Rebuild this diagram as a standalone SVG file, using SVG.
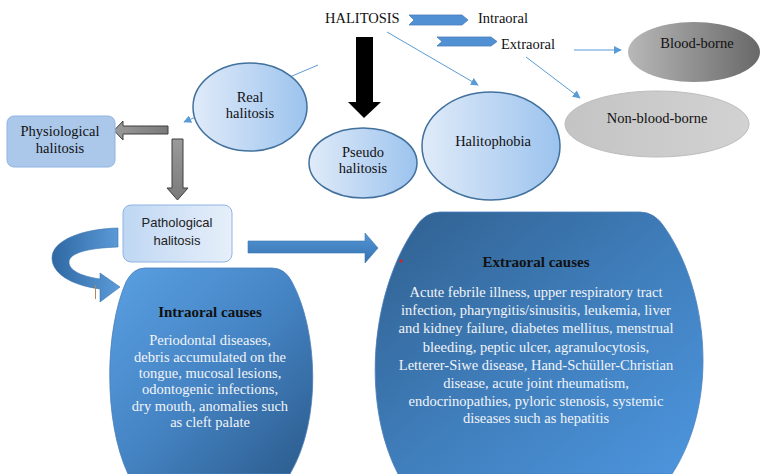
<svg xmlns="http://www.w3.org/2000/svg" width="760" height="474" viewBox="0 0 760 474">
<defs>
<linearGradient id="gEll" x1="0" y1="0" x2="1" y2="0"><stop offset="0" stop-color="#e0ebf9"/><stop offset="1" stop-color="#9cc3ee"/></linearGradient>
<linearGradient id="gPath" x1="0" y1="0" x2="1" y2="0"><stop offset="0" stop-color="#bfd7f3"/><stop offset="1" stop-color="#e6effa"/></linearGradient>
<linearGradient id="gBlood" x1="0" y1="0" x2="1" y2="0"><stop offset="0" stop-color="#b8b8b8"/><stop offset="1" stop-color="#686868"/></linearGradient>
<linearGradient id="gNon" x1="0" y1="0" x2="1" y2="0"><stop offset="0" stop-color="#c4c4c4"/><stop offset="1" stop-color="#d2d2d2"/></linearGradient>
<linearGradient id="gGray" x1="0" y1="0" x2="1" y2="0"><stop offset="0" stop-color="#9a9a9a"/><stop offset="1" stop-color="#7a7a7a"/></linearGradient>
<linearGradient id="gGrayV" x1="0" y1="0" x2="0" y2="1"><stop offset="0" stop-color="#9a9a9a"/><stop offset="1" stop-color="#7a7a7a"/></linearGradient>
<linearGradient id="gIntra" x1="0" y1="0" x2="1" y2="1"><stop offset="0" stop-color="#5aa0e2"/><stop offset="0.5" stop-color="#4584c4"/><stop offset="1" stop-color="#2b5b8c"/></linearGradient>
<linearGradient id="gExtra" x1="0" y1="0" x2="1" y2="1"><stop offset="0" stop-color="#30608f"/><stop offset="0.5" stop-color="#3f7dba"/><stop offset="1" stop-color="#4d96df"/></linearGradient>
<linearGradient id="gBlueArrow" x1="0" y1="0" x2="0" y2="1"><stop offset="0" stop-color="#5596d6"/><stop offset="1" stop-color="#3572b0"/></linearGradient>
<linearGradient id="gCurve" x1="0" y1="0" x2="1" y2="0"><stop offset="0" stop-color="#2f68a3"/><stop offset="1" stop-color="#5b9bd8"/></linearGradient>
<marker id="ah" viewBox="0 0 10 10" refX="9" refY="5" markerWidth="8" markerHeight="8" markerUnits="userSpaceOnUse" orient="auto"><path d="M0,0 L10,5 L0,10 Z" fill="#5b9bd5"/></marker>
</defs>
<style>
.serif{font-family:"Liberation Serif","Times New Roman",serif;fill:#111}
.sans{font-family:"Liberation Sans",Arial,sans-serif;fill:#222}
.t14{font-size:14.5px}
.ctr{text-anchor:middle}
.body{font-family:"Liberation Serif","Times New Roman",serif;font-size:14.5px;fill:#f2f4f8;text-anchor:middle}
.head{font-family:"Liberation Serif","Times New Roman",serif;font-size:15px;font-weight:bold;fill:#111;text-anchor:middle}
.ell{fill:url(#gEll);stroke:#41719c;stroke-width:1.5}
.thin{stroke:#5b9bd5;stroke-width:1;fill:none}
.chev{fill:#5190d2;stroke:#4a7ebb;stroke-width:0.8}
.grayA{stroke:#3f3f3f;stroke-width:1}
</style>
<rect width="760" height="474" fill="#ffffff"/>

<g id="connectors">
<line class="thin" x1="318" y1="65" x2="184" y2="122" marker-end="url(#ah)"/>
<line class="thin" x1="387" y1="32" x2="478" y2="85" marker-end="url(#ah)"/>
<line class="thin" x1="526" y1="57" x2="580" y2="98" marker-end="url(#ah)"/>
<line class="thin" x1="574" y1="50" x2="621" y2="50" marker-end="url(#ah)"/>
<path class="chev" d="M409,15 L462,15 L468,20 L462,25 L409,25 L414,20 Z"/>
<path class="chev" d="M437,37 L491,37 L497,41.5 L491,46 L437,46 L442,41.5 Z"/>
<path d="M356,37 L373,37 L373,102 L381,102 L364,118 L348,102 L356,102 Z" fill="#000"/>
<path class="grayA" d="M168,126 L123,126 L123,121 L114,130.5 L123,140 L123,134 L168,134 Z" fill="url(#gGray)"/>
<path class="grayA" d="M172,139 L183,139 L183,188 L188,188 L177.5,200 L167,188 L172,188 Z" fill="url(#gGrayV)"/>
<path d="M248,241 L365,241 L365,233 L378,248 L365,263 L365,253 L248,253 Z" fill="url(#gBlueArrow)" stroke="#3a75b2" stroke-width="0.6"/>
<path d="M118,228 C80,229 52,241 52,258 C52,273 70,285 100,289 L100,302 L120,287 L100,273 L100,279 C80,276 69,270 69,262 C69,253 88,248 118,247 Z" fill="url(#gCurve)" stroke="#3a75b2" stroke-width="0.6"/>
<line x1="95.5" y1="285" x2="95.5" y2="299" stroke="#b08a55" stroke-width="1"/>
</g>

<g id="halitosis"><text class="serif" x="325" y="23" font-size="14.5">HALITOSIS</text></g>
<g id="intraoral-label"><text class="serif t14" x="478" y="23">Intraoral</text></g>
<g id="extraoral-label"><text class="serif t14" x="501" y="49">Extraoral</text></g>

<g id="blood-borne">
<ellipse cx="694" cy="52" rx="66" ry="30" fill="url(#gBlood)"/>
<text class="serif t14 ctr" x="697" y="48">Blood-borne</text>
</g>
<g id="non-blood-borne">
<ellipse cx="657" cy="124" rx="92" ry="33" fill="url(#gNon)" stroke="#bcbcbc" stroke-width="1"/>
<text class="serif t14 ctr" x="657" y="123">Non-blood-borne</text>
</g>

<g id="real-halitosis">
<ellipse class="ell" cx="250" cy="107" rx="57" ry="44"/>
<text class="serif t14 ctr" x="250" y="102">Real</text>
<text class="serif t14 ctr" x="250" y="118">halitosis</text>
</g>
<g id="pseudo-halitosis">
<ellipse class="ell" cx="363" cy="163" rx="54" ry="35"/>
<text class="serif t14 ctr" x="363" y="157">Pseudo</text>
<text class="serif t14 ctr" x="363" y="173">halitosis</text>
</g>
<g id="halitophobia">
<ellipse class="ell" cx="491" cy="146" rx="69" ry="54"/>
<text class="serif t14 ctr" x="493" y="146">Halitophobia</text>
</g>

<g id="physiological-halitosis">
<rect x="7" y="116" width="108" height="51" rx="7" fill="#abc8ea" stroke="#8fb4e3" stroke-width="1"/>
<text class="serif t14 ctr" x="60" y="136">Physiological</text>
<text class="serif t14 ctr" x="60" y="153">halitosis</text>
</g>

<g id="pathological-halitosis">
<rect x="123" y="205" width="109" height="57" rx="8" fill="url(#gPath)" stroke="#8fb4e3" stroke-width="1"/>
<text class="sans ctr" x="177" y="227" font-size="13">Pathological</text>
<text class="sans ctr" x="177" y="245" font-size="13">halitosis</text>
</g>

<g id="intraoral-causes">
<path d="M145,268 L272,268 Q285,268 292,282 C318,330 322,420 290,474 L128,474 C103,420 105,330 126,282 Q133,268 145,268 Z" fill="url(#gIntra)" stroke="#4a7ebb" stroke-width="0.8"/>
<text class="head" x="210" y="317">Intraoral causes</text>
<text class="body" x="210" y="345">Periodontal diseases,</text>
<text class="body" x="210" y="361.5">debris accumulated on the</text>
<text class="body" x="210" y="378">tongue, mucosal lesions,</text>
<text class="body" x="210" y="394">odontogenic infections,</text>
<text class="body" x="210" y="410.5">dry mouth, anomalies such</text>
<text class="body" x="210" y="427">as cleft palate</text>
</g>

<g id="extraoral-causes">
<path d="M440,212 L640,212 Q655,212 665,228 C708,290 720,400 672,474 L398,474 C360,400 372,290 415,228 Q425,212 440,212 Z" fill="url(#gExtra)" stroke="#4a7ebb" stroke-width="0.8"/>
<circle cx="401" cy="261" r="1.6" fill="#e02020"/>
<text class="head" x="536" y="267">Extraoral causes</text>
<text class="body" x="536" y="297">Acute febrile illness, upper respiratory tract</text>
<text class="body" x="536" y="315">infection, pharyngitis/sinusitis, leukemia, liver</text>
<text class="body" x="536" y="333">and kidney failure, diabetes mellitus, menstrual</text>
<text class="body" x="536" y="351.5">bleeding, peptic ulcer, agranulocytosis,</text>
<text class="body" x="536" y="369.5">Letterer-Siwe disease, Hand-Schüller-Christian</text>
<text class="body" x="536" y="387.5">disease, acute joint rheumatism,</text>
<text class="body" x="536" y="405.5">endocrinopathies, pyloric stenosis, systemic</text>
<text class="body" x="536" y="423">diseases such as hepatitis</text>
</g>
</svg>
